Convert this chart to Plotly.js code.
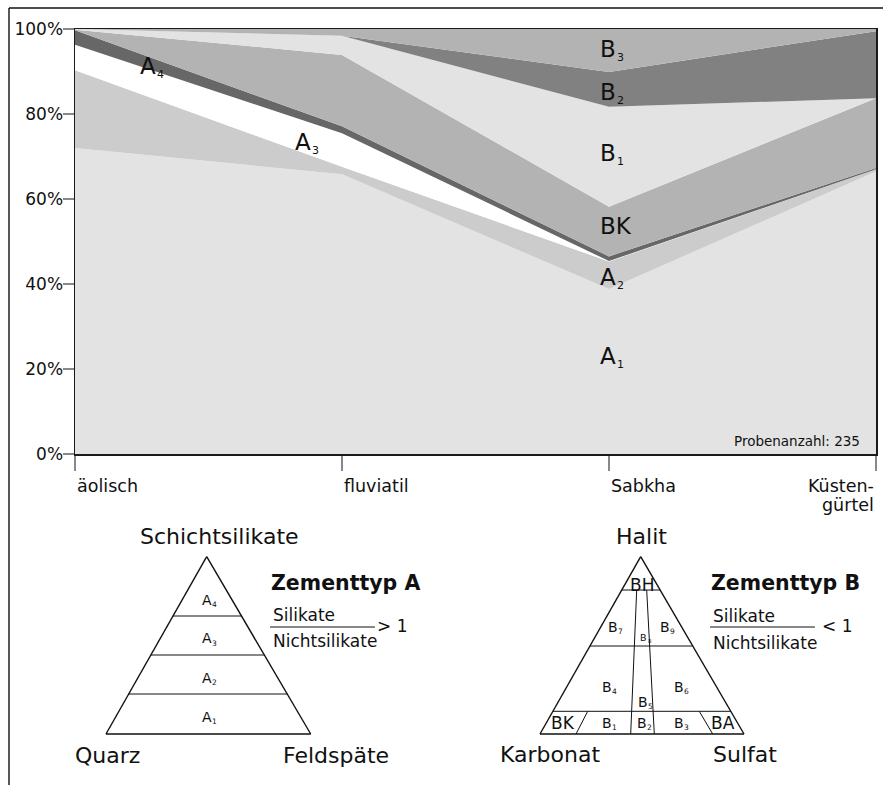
<!DOCTYPE html>
<html><head><meta charset="utf-8">
<script src="https://cdn.plot.ly/plotly-3.0.1.min.js"></script>
<style>html,body{margin:0;padding:0;background:#fff}</style>
</head><body><div id="chart" style="width:883px;height:785px"></div>
<script>
// ---- data ----
const categories = ['äolisch', 'fluviatil', 'Sabkha', 'Küsten-<br>gürtel'];
const A1 = [72.0, 65.8, 38.8, 66.5];
const A2 = [18.3, 1.8, 6.5, 0.5];
const A3 = [6.0, 7.9, 0.1, 0.0];
const A4 = [3.4, 1.6, 1.1, 0.3];
const BK = [0.15, 16.8, 11.7, 16.4];
const B1 = [0.15, 4.5, 23.5, 0.0];
const B2 = [0.0, 0.0, 8.2, 15.8];
const B3 = [0.0, 1.6, 10.1, 0.5];
const seriesNames = ['A1', 'A2', 'A3', 'A4', 'BK', 'B1', 'B2', 'B3'];
const seriesValues = [A1, A2, A3, A4, BK, B1, B2, B3];
const seriesColors = ['#e3e3e3', '#cccccc', '#ffffff', '#676767', '#b3b3b3', '#e3e3e3', '#818181', '#b3b3b3'];
const yTickVals = [0, 20, 40, 60, 80, 100];
const yTickText = ['0%', '20%', '40%', '60%', '80%', '100%'];
const sampleNote = 'Probenanzahl: 235';

// ---- helpers (page pixels -> paper) ----
const W = 883, H = 785;
const FONT = 'DejaVu Sans, Liberation Sans, Arial, sans-serif';
const px = x => x / W;
const py = y => 1 - y / H;
const annotations = [];
function ann(text, x, y, size, extra) {
  annotations.push(Object.assign({
    text: text, xref: 'paper', yref: 'paper', x: px(x), y: py(y),
    xanchor: 'center', yanchor: 'middle', showarrow: false,
    font: {family: FONT, size: size, color: '#111'}
  }, extra || {}));
}
// label like "A4": big letter + small subscript digit, given left edge
function subLabelLeft(name, xl, y, size, ssize) {
  if (name === 'BK' || name === 'BA' || name === 'BH') { ann(name, xl, y, size, {xanchor: 'left'}); return; }
  const base = name[0], s = name.slice(1);
  ann(base, xl, y, size, {xanchor: 'left'});
  ann(s, xl + 0.72 * size + 0.5, y + 0.36 * size, ssize, {xanchor: 'left'});
}
function subLabelCenter(name, cx, y, size, ssize) {
  const w = 0.72 * size + 0.62 * ssize;
  subLabelLeft(name, cx - w / 2, y, size, ssize);
}

const traces = seriesNames.map((n, i) => ({
  type: 'scatter', x: categories, y: seriesValues[i], name: n,
  stackgroup: 'one', mode: 'lines', line: {width: 0},
  fillcolor: seriesColors[i], hoverinfo: 'skip', showlegend: false
}));

// series labels inside the area chart
const labelPos = {A4: [138, 66], A3: [293, 142], B3: [598, 49], B2: [598, 92], B1: [598, 153], BK: [598, 226], A2: [598, 277], A1: [598, 356]};
Object.keys(labelPos).forEach(k => subLabelLeft(k, labelPos[k][0], labelPos[k][1], 23, 11));
ann(sampleNote, 862, 441, 13.5, {xanchor: 'right'});

// x category labels (left aligned under the ticks, last one right aligned)
categories.forEach((c, i) => {
  c.split('<br>').forEach((t, j) => {
    annotations.push({
      text: t, xref: 'x', yref: 'paper', x: i, y: py(486 + 19 * j),
      xanchor: i === categories.length - 1 ? 'right' : 'left', yanchor: 'middle',
      showarrow: false, font: {family: FONT, size: 17.5, color: '#111'}
    });
  });
});

// ---- ternary-style diagrams ----
const shapes = [];
function line(x0, y0, x1, y1, w) {
  shapes.push({type: 'line', xref: 'paper', yref: 'paper', x0: px(x0), y0: py(y0), x1: px(x1), y1: py(y1),
    line: {color: '#111', width: w || 1}});
}
function tri(ax, ay, lx, rx, by) {
  line(ax, ay, lx, by, 1.4); line(ax, ay, rx, by, 1.4); line(lx, by, rx, by, 1.4);
  return {
    L: y => ax + (lx - ax) * (y - ay) / (by - ay),
    R: y => ax + (rx - ax) * (y - ay) / (by - ay)
  };
}
// outer frame
line(9, 8, 883, 8, 1.4);
line(9, 8, 9, 785, 1.4);

// triangle A
const tA = tri(206.7, 556.7, 106, 310.7, 734);
[616, 655, 694].forEach(y => line(tA.L(y), y, tA.R(y), y, 1));
[['A4', 599.5], ['A3', 638], ['A2', 677.5], ['A1', 716.5]].forEach(a => subLabelCenter(a[0], 207, a[1], 14, 7.5));
ann('Schichtsilikate', 219, 536, 22);
ann('Quarz', 107, 755, 22);
ann('Feldspäte', 336, 755, 22);
ann('<b>Zementtyp A</b>', 269, 583, 20.5, {xanchor: 'left'});
ann('Silikate', 271, 615, 17, {xanchor: 'left'});
ann('Nichtsilikate', 271, 641, 17, {xanchor: 'left'});
line(270, 627, 375, 627, 1);
ann('> 1', 392, 626, 17);

// triangle B
const tB = tri(640.7, 556.7, 540, 744, 734);
[590, 646, 711.3].forEach(y => line(tB.L(y), y, tB.R(y), y, 1));
line(636.7, 590, 630.7, 734, 1);
line(646.7, 590, 654.3, 734, 1);
line(587.7, 711.3, 576, 734, 1);
line(699.3, 711.3, 712.7, 734, 1);
ann('BH', 641.5, 585, 17);
[['B7', 613, 626.5], ['B9', 665, 626.5], ['B4', 607, 686.5], ['B6', 679, 686.5], ['B5', 643, 701.5],
 ['B1', 607, 722.5], ['B2', 642, 722.5], ['B3', 679, 722.5]].forEach(b => subLabelCenter(b[0], b[1], b[2], 14, 7.5));
subLabelCenter('B8', 643.5, 637.5, 9.5, 5.5);
ann('BK', 563, 723, 17);
ann('BA', 722.5, 723, 17);
ann('Halit', 641, 536, 22);
ann('Karbonat', 550, 754, 22);
ann('Sulfat', 745, 754, 22);
ann('<b>Zementtyp B</b>', 709, 583, 20.5, {xanchor: 'left'});
ann('Silikate', 711, 616, 17, {xanchor: 'left'});
ann('Nichtsilikate', 711, 643, 17, {xanchor: 'left'});
line(710, 627, 815, 627, 1);
ann('< 1', 837, 626, 17);

const layout = {
  width: W, height: H,
  margin: {l: 0, r: 0, t: 0, b: 0},
  paper_bgcolor: '#ffffff', plot_bgcolor: '#ffffff',
  font: {family: FONT, size: 17, color: '#111'},
  showlegend: false,
  xaxis: {
    type: 'category', domain: [75 / W, 876 / W], range: [0, 3], automargin: false,
    showgrid: false, zeroline: false, showline: true, linecolor: '#1a1a1a', linewidth: 1.5, mirror: true,
    ticks: 'outside', ticklen: 15, tickwidth: 1.5, tickcolor: '#888', showticklabels: false
  },
  yaxis: {
    domain: [1 - 454 / H, 1 - 29 / H], range: [0, 100], automargin: false,
    showgrid: false, zeroline: false, showline: true, linecolor: '#1a1a1a', linewidth: 1.5, mirror: true,
    ticks: 'outside', ticklen: 11, tickwidth: 1.5, tickcolor: '#888', ticklabelstandoff: -4,
    tickvals: yTickVals, ticktext: yTickText, tickfont: {family: FONT, size: 17, color: '#111'}
  },
  annotations: annotations,
  shapes: shapes
};
Plotly.newPlot('chart', traces, layout, {displayModeBar: false, staticPlot: true});
</script>
</body></html>
